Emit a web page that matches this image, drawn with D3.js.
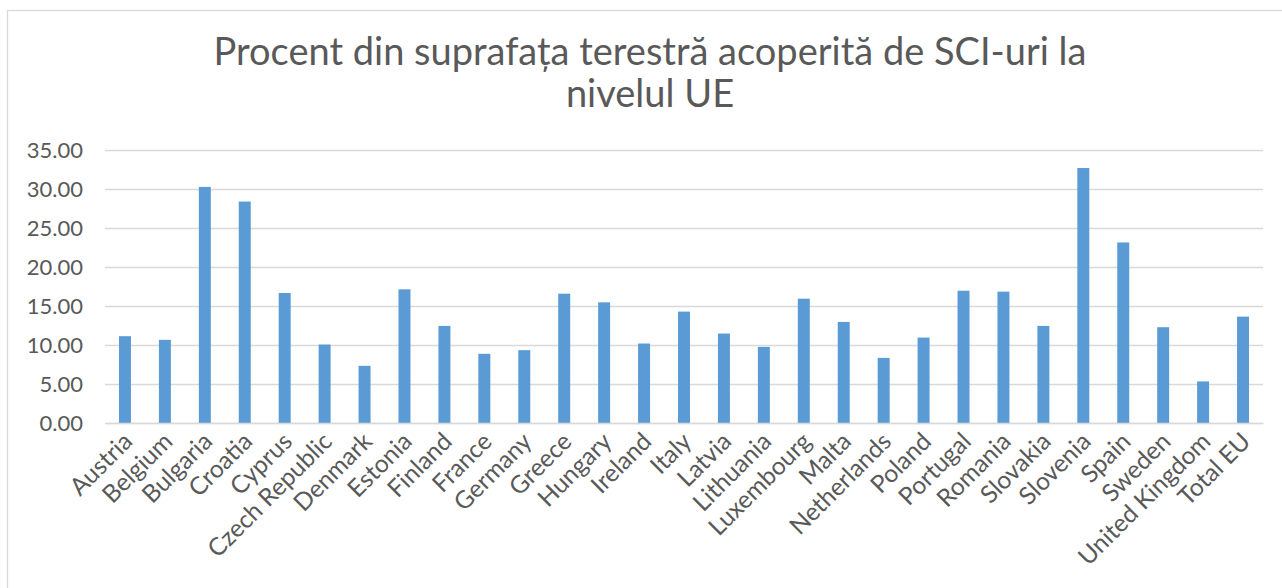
<!DOCTYPE html>
<html>
<head>
<meta charset="utf-8">
<script src="https://cdn.jsdelivr.net/npm/d3@7"></script>
<style>
	body { margin: 0; background: #fff; }
	svg { display: block; font-family: Lato, "Noto Sans", sans-serif; }
</style>
</head>
<body>
<div id="container"></div>
<script>
const titleLines = ["Procent din suprafața terestră acoperită de SCI-uri la", "nivelul UE"];

const countries = [
	"Austria", "Belgium", "Bulgaria", "Croatia", "Cyprus", "Czech Republic",
	"Denmark", "Estonia", "Finland", "France", "Germany", "Greece", "Hungary",
	"Ireland", "Italy", "Latvia", "Lithuania", "Luxembourg", "Malta",
	"Netherlands", "Poland", "Portugal", "Romania", "Slovakia", "Slovenia",
	"Spain", "Sweden", "United Kingdom", "Total EU"
];

const shares = [
	11.13, 10.66, 30.27, 28.39, 16.67, 10.06,
	7.33, 17.14, 12.45, 8.87, 9.34, 16.58, 15.47,
	10.19, 14.28, 11.47, 9.76, 15.94, 12.96,
	8.35, 10.95, 16.96, 16.84, 12.45, 32.69,
	23.15, 12.28, 5.33, 13.64
];

const yTicks = [0, 5, 10, 15, 20, 25, 30, 35];

function drawChart() {
	const width = 1282;
	const height = 588;
	const margin = { top: 150, right: 19, bottom: 165, left: 105 };
	const textColor = "#595959";
	const gridColor = "#d9d9d9";

	const data = countries.map((name, i) => ({ name, value: shares[i] }));

	const svg = d3
		.select("#container")
		.append("svg")
		.attr("width", width)
		.attr("height", height);

	// chart frame, runs off the right and bottom edges like the screenshot
	svg
		.append("rect")
		.attr("x", 7.5)
		.attr("y", 10.5)
		.attr("width", width + 20)
		.attr("height", height + 20)
		.attr("fill", "#fff")
		.attr("stroke", gridColor)
		.attr("stroke-width", 1.3);

	const x = d3
		.scaleBand()
		.domain(countries)
		.range([margin.left, width - margin.right])
		.paddingInner(0.7)
		.paddingOuter(0.35);

	const y = d3
		.scaleLinear()
		.domain([0, 35])
		.range([height - margin.bottom, margin.top]);

	// title
	svg
		.append("text")
		.attr("text-anchor", "middle")
		.attr("fill", textColor)
		.style("font-size", "38px")
		.selectAll("tspan")
		.data(titleLines)
		.enter()
		.append("tspan")
		.attr("x", 650)
		.attr("y", (d, i) => 65 + i * 42)
		.text((d) => d);

	// y axis with gridlines
	const yAxis = d3
		.axisLeft(y)
		.tickValues(yTicks)
		.tickFormat(d3.format(".2f"))
		.tickSize(margin.left + margin.right - width)
		.tickPadding(22);

	const gy = svg
		.append("g")
		.attr("class", "y-axis")
		.attr("transform", `translate(${margin.left}, 0)`)
		.call(yAxis);
	gy.select(".domain").remove();
	gy.selectAll(".tick line").attr("stroke", gridColor).attr("stroke-width", 1.5);
	gy.selectAll(".tick text")
		.attr("fill", textColor)
		.style("font-size", "22px")
		.style("font-family", "Lato, sans-serif");

	// bars
	svg
		.append("g")
		.attr("class", "bars")
		.selectAll("rect")
		.data(data)
		.enter()
		.append("rect")
		.attr("x", (d) => x(d.name))
		.attr("y", (d) => y(d.value))
		.attr("width", x.bandwidth())
		.attr("height", (d) => y(0) - y(d.value))
		.attr("fill", "#5b9bd5");

	// x axis, labels rotated -45deg
	const xAxis = d3.axisBottom(x).tickSize(0).tickPadding(0);
	const gx = svg
		.append("g")
		.attr("class", "x-axis")
		.attr("transform", `translate(0, ${y(0)})`)
		.call(xAxis);
	gx.select(".domain").attr("stroke", gridColor).attr("stroke-width", 1.5);
	gx.selectAll(".tick text")
		.attr("fill", textColor)
		.style("font-size", "24.5px")
		.style("font-family", "Lato, sans-serif")
		.attr("text-anchor", "end")
		.attr("dy", null)
		.attr("y", 0)
		.attr("transform", "translate(9, 20) rotate(-45)");
}

window.addEventListener("load", () => drawChart());
</script>
</body>
</html>
